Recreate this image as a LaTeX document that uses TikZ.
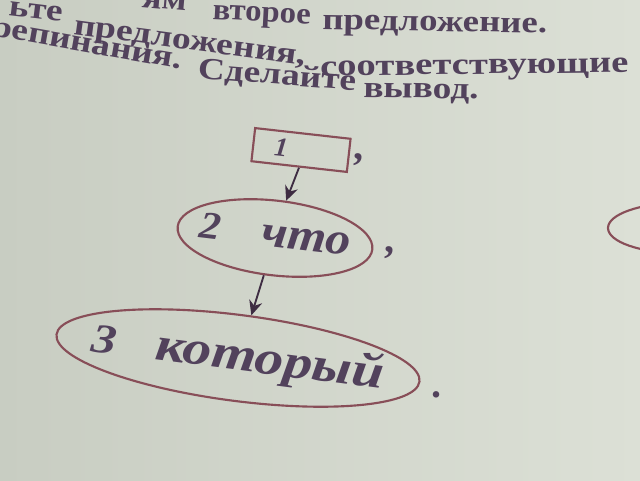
\documentclass[tikz,border=0pt]{standalone}
\usepackage{fontspec}
\usepackage{graphicx}
\setmainfont{Liberation Serif}
\usetikzlibrary{shapes.geometric,arrows.meta}
\definecolor{bgleft}{RGB}{200,205,194}
\definecolor{bgright}{RGB}{220,224,214}
\definecolor{ink}{RGB}{82,66,92}
\definecolor{linec}{RGB}{136,78,88}
\definecolor{arrc}{RGB}{62,44,66}
\newcommand\topfont{\fontsize{23}{25}\selectfont\bfseries}
\newcommand\topw[2]{\scalebox{#1}[1]{#2}}
\begin{document}
\begin{tikzpicture}[x=0.75pt,y=-0.75pt,
  topword/.style={anchor=base west, inner sep=0pt, text=ink, font=\topfont},
  framebox/.style={draw=linec, line width=1.6pt, minimum width=72pt, minimum height=25pt, inner sep=0pt, text=ink},
  oval/.style={ellipse, draw=linec, line width=1.6pt, inner sep=0pt, text=ink},
  punct/.style={inner sep=0pt, text=ink, font=\fontsize{30}{30}\selectfont\bfseries},
  link/.style={draw=arrc, line width=1.4pt, -{Stealth[length=11pt,width=10pt]}}]
\useasboundingbox (0,0) rectangle (640,480);
\clip (0,0) rectangle (640,480);
\shade[left color=bgleft, right color=bgright] (0,0) rectangle (640,480);
% top text (page fragment)
\node[topword, rotate=-5] (w1) at (141,7) {\topw{1.2}{ям}};
\node[topword, rotate=-3] (w2) at (212,19) {\topw{1.07}{второе}};
\node[topword, rotate=-1] (w3) at (322,29) {\topw{1.2}{предложение.}};
\node[topword, anchor=base east, rotate=-7] (w4) at (62,22) {\topw{1.22}{ьте}};
\node[topword, rotate=-7.6] (w5) at (73,34) {\topw{1.23}{предложения,}};
\node[topword, rotate=0.7] (w6) at (320,76) {\topw{1.26}{соответствующие}};
\node[topword, anchor=base east, rotate=-10] (w7) at (181,69) {\topw{1.22}{репинания.}};
\node[topword, rotate=-4.5] (w8) at (197,78) {\topw{1.22}{Сделайте}};
\node[topword, rotate=-1] (w9) at (363,97) {\topw{1.22}{вывод.}};
% diagram
\node[framebox, rotate=-6.4] (n1) at (301,150) {\fontsize{20}{20}\selectfont\bfseries\itshape 1\kern 30pt};
\node[oval, rotate=-6.7, minimum width=147pt, minimum height=56pt] (e2) at (275,238)
  {\makebox[0pt]{\raisebox{6pt}{\scalebox{1.1}[1]{\bfseries\itshape{\fontsize{29}{29}\selectfont 2}\kern 28pt{\fontsize{34}{34}\selectfont что}}}}};
\node[oval, rotate=-7.4, minimum width=274.5pt, minimum height=64.5pt] (e3) at (238,358)
  {\makebox[0pt]{\raisebox{-2pt}{\scalebox{1.2}[1]{\bfseries\itshape{\fontsize{31}{31}\selectfont 3}\kern 25pt{\fontsize{36}{36}\selectfont который}}}}};
\node[oval, minimum width=108pt, minimum height=37.5pt] (e4) at (680,228) {};
\draw[link] (n1.south) -- (e2.80);
\draw[link] (e2.260) -- (e3.80);
\node[punct] (p1) at (358,160) {,};
\node[punct] (p2) at (389,253) {,};
\node[punct] (p3) at (436,395) {.};
\end{tikzpicture}
\end{document}
